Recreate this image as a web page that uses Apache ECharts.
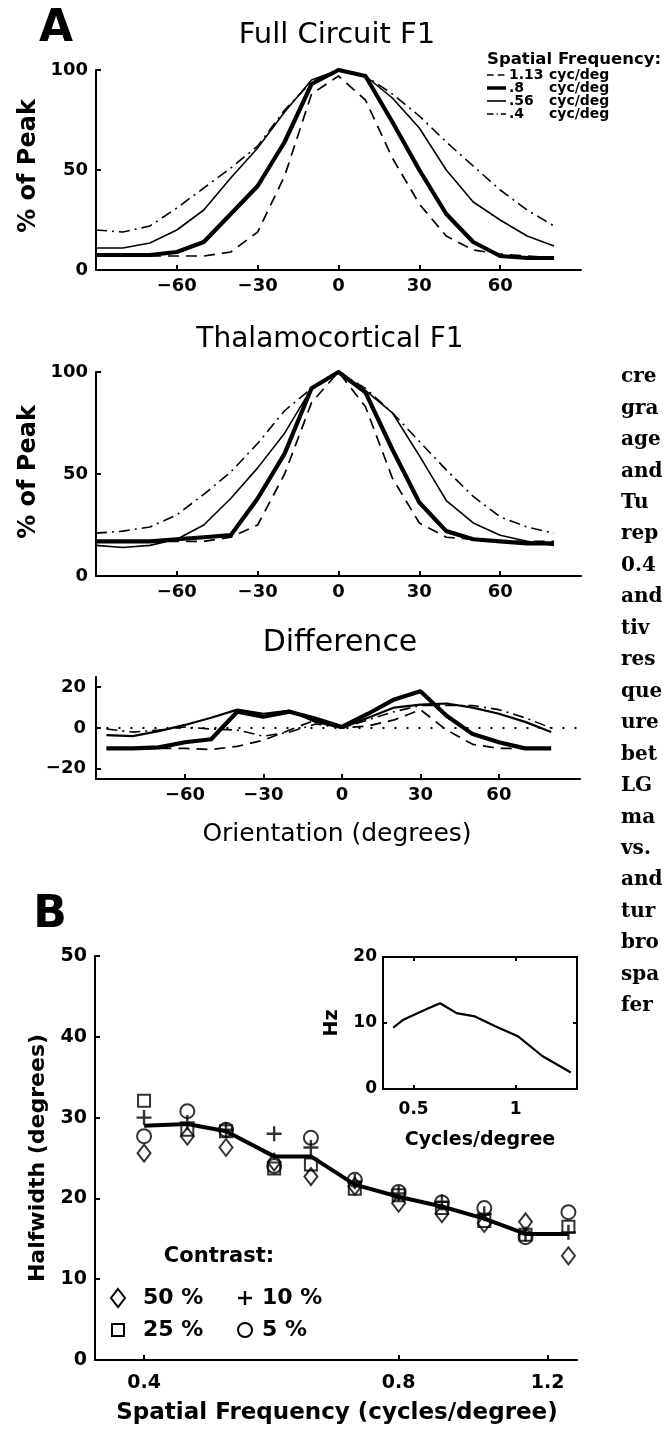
<!DOCTYPE html>
<html><head><meta charset="utf-8">
<script src="https://cdn.jsdelivr.net/npm/echarts@6/dist/echarts.min.js"></script>
<style>html,body{margin:0;padding:0;background:#fff}#c{width:666px;height:1430px}</style>
</head><body><div id="c"></div>
<script>
// ---------- Panel A data (orientation in degrees) ----------
const orientations = [-90,-80,-70,-60,-50,-40,-30,-20,-10,0,10,20,30,40,50,60,70,80];
const orientTicks = [-60,-30,0,30,60];
// Full Circuit F1 (% of peak)
const full_113 = [7,7,7,7,7,9,19,47,88,97,85,56,33,17,10,8,7,6];
const full_080 = [7.5,7.5,7.5,9,14,28,42,64,93,100,97,74,50,28,14,7,6,6];
const full_056 = [11,11,13.5,20,30,46,61,79,95,100,97,86,71,50,34,25,17,12];
const full_040 = [20,19,22,31,41,51,62,80,94,100,97,88,77,64,52,40,30,22];
// Thalamocortical F1 (% of peak)
const thal_113 = [17,17,17,17,17,19,25,50,85,100,83,48,26,19,18,17,17,17];
const thal_080 = [17,17,17,18,19,20,38,60,92,100,90,62,36,22,18,17,16,16];
const thal_056 = [15,14,15,18,25,38,53,70,92,100,91,80,59,37,26,20,17,15];
const thal_040 = [21,22,24,30,40,51,65,81,92,100,92,80,66,52,39,29,24,21];
// Difference
const diff_113 = [-10,-10,-10,-10,-10.5,-9,-6,-1,4,0,1,4,9,-1,-8,-10,-10,-10];
const diff_080 = [-10,-10,-9.5,-7,-5.5,8,5.5,8,4.5,0.5,7,14,18,6,-3,-7,-10,-10];
const diff_056 = [-3.5,-4,-1.5,1.5,5,9,7,8.5,3,0,5,10,11.5,12,10,7,3,-2];
const diff_040 = [-0.5,-2,-1,0.5,-0.5,-1,-4,-2,2,0,4,8,11,11,11,9,5,0];
const zeroLineX = [-90, 90];
const zeroLineY = [0, 0];
const diffTicks = [-20, 0, 20];

// ---------- Panel B data ----------
const spatialFreq = [0.4,0.45,0.5,0.57,0.63,0.71,0.8,0.9,1.01,1.13,1.27];
const halfwidthMean = [29,29.2,28.3,25.2,25.2,21.7,20.2,19,17.5,15.6,15.6];
const hw50 = [25.6,27.7,26.3,24.5,22.7,21.5,19.4,18.1,16.9,17.1,12.9];
const hw25 = [32.1,28.5,28.3,23.7,24.2,21.2,20.4,18.8,17.2,15.5,16.5];
const hw10 = [30,29.4,28.5,28,26.3,22.1,20.6,19.6,18.1,15.6,15.8];
const hw05 = [27.7,30.8,28.5,24,27.5,22.3,20.8,19.5,18.8,15.2,18.3];
const insetHz = [9.3,10.5,11.2,12.2,13,11.5,11,9.5,8,5,2.5];
const bXTicks = [0.4, 0.8, 1.2];
const insetXTicks = [0.5, 1];

// ---------- legend / text labels ----------
const sfLegendNums = ['1.13', '.8', '.56', '.4'];
const contrastLabels = ['50 %', '25 %', '10 %', '5 %'];
const pageWords = ['cre','gra','age','and','Tu','rep','0.4','and','tiv','res','que','ure','bet','LG','ma','vs.','and','tur','bro','spa','fer'];

const FONT = '"DejaVu Sans", sans-serif';
const pairs = (xs, ys) => xs.map((x, i) => [x, ys[i]]);
const minus = v => String(v).replace('-', '\u2212');

const STY = {
  dashed: {width: 1.7, type: [11, 7]},
  thick: {width: 4.2, type: 'solid'},
  thin: {width: 1.6, type: 'solid'},
  dashdot: {width: 1.6, type: [11, 5, 2, 5]},
  dotted: {width: 2, type: [2, 10]}
};

function lineSeries(xi, xs, ys, sty, z) {
  return {type: 'line', xAxisIndex: xi, yAxisIndex: xi, data: pairs(xs, ys),
    symbol: 'none', silent: true, z: z || 2,
    lineStyle: {color: '#000', width: sty.width, type: sty.type, cap: 'butt', join: 'round'}};
}

const axisLineS = {show: true, onZero: false, lineStyle: {color: '#000', width: 2}};
const labelS = {color: '#000', fontFamily: FONT, fontWeight: 'bold', fontSize: 18};
const tickS = (len, cv) => {
  const t = {inside: true, length: len, lineStyle: {width: 2, color: '#000'}};
  if (cv) t.customValues = cv;
  return t;
};

function orientX(gi, min, max) {
  return {type: 'value', gridIndex: gi, min: min, max: max,
    axisLine: axisLineS, axisTick: tickS(5, orientTicks),
    axisLabel: Object.assign({margin: 7, customValues: orientTicks, formatter: minus}, labelS),
    splitLine: {show: false}};
}
function pctY(gi) {
  return {type: 'value', gridIndex: gi, min: 0, max: 100, interval: 50,
    axisLine: axisLineS, axisTick: tickS(5),
    axisLabel: Object.assign({margin: 8}, labelS), splitLine: {show: false}};
}

// ---------- graphic elements (titles, letters, legends, page text) ----------
const G = [];
function txt(x, y, s, size, weight, opt) {
  opt = opt || {};
  G.push({type: 'text', x: x, y: y, rotation: opt.rot || 0, silent: true, z: 10,
    style: {text: s, fill: '#000', fontFamily: opt.family || FONT, fontSize: size,
      fontWeight: weight, align: opt.align || 'center', verticalAlign: 'middle'}});
}
function ln(x1, y1, x2, y2, w, dash) {
  G.push({type: 'line', silent: true, z: 10, shape: {x1, y1, x2, y2},
    style: {stroke: '#000', lineWidth: w, lineDash: dash || null}});
}

txt(56, 30, 'A', 44, 'bold');
txt(50, 916, 'B', 44, 'bold');
txt(337, 35, 'Full Circuit F1', 29, 'normal');
txt(330, 340, 'Thalamocortical F1', 28, 'normal');
txt(340, 643, 'Difference', 30, 'normal');
txt(337, 834, 'Orientation (degrees)', 25, 'normal');
txt(29, 166, '% of Peak', 24, 'bold', {rot: Math.PI / 2});
txt(29, 472, '% of Peak', 24, 'bold', {rot: Math.PI / 2});
txt(38, 1158, 'Halfwidth (degrees)', 22, 'bold', {rot: Math.PI / 2});
txt(337, 1413, 'Spatial Frequency (cycles/degree)', 23, 'bold');
txt(332, 1023, 'Hz', 19, 'bold', {rot: Math.PI / 2});
txt(480, 1140, 'Cycles/degree', 19, 'bold');

// Spatial frequency legend
txt(487, 60, 'Spatial Frequency:', 16.5, 'bold', {align: 'left'});
const legRows = [75, 88, 101, 114];
const legSty = [STY.dashed, STY.thick, STY.thin, STY.dashdot];
legRows.forEach((y, i) => {
  const s = legSty[i];
  const dash = Array.isArray(s.type) ? s.type.map(v => v * 0.6) : null;
  ln(487, y, 506, y, s.width === 4.2 ? 3.5 : 1.6, dash);
  txt(509, y, sfLegendNums[i], 14, 'bold', {align: 'left'});
  txt(549, y, 'cyc/deg', 14, 'bold', {align: 'left'});
});

// Contrast legend
txt(219, 1257, 'Contrast:', 21, 'bold');
G.push({type: 'polygon', silent: true, z: 10, shape: {points: [[118, 1289], [125, 1298], [118, 1307], [111, 1298]]},
  style: {fill: 'none', stroke: '#000', lineWidth: 2}});
G.push({type: 'rect', silent: true, z: 10, shape: {x: 112, y: 1324, width: 12, height: 12},
  style: {fill: 'none', stroke: '#000', lineWidth: 2}});
ln(238, 1298, 252, 1298, 2.4); ln(245, 1291, 245, 1305, 2.4);
G.push({type: 'circle', silent: true, z: 10, shape: {cx: 245, cy: 1330, r: 7},
  style: {fill: 'none', stroke: '#000', lineWidth: 2}});
txt(143, 1298, contrastLabels[0], 22, 'bold', {align: 'left'});
txt(143, 1330, contrastLabels[1], 22, 'bold', {align: 'left'});
txt(262, 1298, contrastLabels[2], 22, 'bold', {align: 'left'});
txt(262, 1330, contrastLabels[3], 22, 'bold', {align: 'left'});

// Body text fragments at the right edge of the page
pageWords.forEach((w, i) => txt(621, 377 + i * 31.45, w, 20, 'bold', {align: 'left', family: '"DejaVu Serif", serif'}));

// ---------- scatter helper ----------
function marks(ys, symbol, size, bw) {
  return {type: 'scatter', xAxisIndex: 3, yAxisIndex: 3, data: pairs(spatialFreq, ys),
    symbol: symbol, symbolSize: size, silent: true, z: 4,
    itemStyle: {color: 'rgba(0,0,0,0)', borderColor: '#000', borderWidth: bw || 2}};
}

const option = {
  animation: false,
  backgroundColor: '#fff',
  grid: [
    {left: 96, top: 70, width: 485, height: 200},
    {left: 96, top: 372, width: 485, height: 204},
    {left: 96, top: 677, width: 484, height: 102},
    {left: 95, top: 956, width: 482, height: 404},
    {left: 383, top: 957, width: 194, height: 132}
  ],
  xAxis: [
    orientX(0, -90, 90),
    orientX(1, -90, 90),
    orientX(2, -94, 91),
    {type: 'log', logBase: 10, gridIndex: 3, min: 0.35, max: 1.3,
      axisLine: axisLineS, axisTick: tickS(5, bXTicks),
      axisLabel: Object.assign({margin: 14, customValues: bXTicks, formatter: v => (+v).toFixed(1)}, labelS, {fontSize: 19}),
      splitLine: {show: false}, minorTick: {show: false}},
    {type: 'value', gridIndex: 4, min: 0.35, max: 1.3,
      axisLine: axisLineS, axisTick: tickS(4, insetXTicks),
      axisLabel: Object.assign({margin: 12, customValues: insetXTicks, formatter: v => String(+(+v).toFixed(1))}, labelS, {fontSize: 17}),
      splitLine: {show: false}},
    {type: 'value', gridIndex: 4, min: 0.35, max: 1.3, position: 'top',
      axisLine: axisLineS, axisTick: tickS(4, insetXTicks),
      axisLabel: {show: false}, splitLine: {show: false}}
  ],
  yAxis: [
    pctY(0),
    pctY(1),
    {type: 'value', gridIndex: 2, min: -25, max: 25,
      axisLine: axisLineS, axisTick: tickS(5, diffTicks),
      axisLabel: Object.assign({margin: 10, customValues: diffTicks, formatter: minus}, labelS),
      splitLine: {show: false}},
    {type: 'value', gridIndex: 3, min: 0, max: 50, interval: 10,
      axisLine: axisLineS, axisTick: tickS(5),
      axisLabel: Object.assign({margin: 8}, labelS, {fontSize: 19}), splitLine: {show: false}},
    {type: 'value', gridIndex: 4, min: 0, max: 20, interval: 10,
      axisLine: axisLineS, axisTick: tickS(4),
      axisLabel: Object.assign({margin: 6}, labelS, {fontSize: 17}), splitLine: {show: false}},
    {type: 'value', gridIndex: 4, min: 0, max: 20, interval: 10, position: 'right',
      axisLine: axisLineS, axisTick: tickS(4),
      axisLabel: {show: false}, splitLine: {show: false}}
  ],
  series: [
    lineSeries(0, orientations, full_040, STY.dashdot),
    lineSeries(0, orientations, full_056, STY.thin),
    lineSeries(0, orientations, full_113, STY.dashed),
    lineSeries(0, orientations, full_080, STY.thick, 3),
    lineSeries(1, orientations, thal_040, STY.dashdot),
    lineSeries(1, orientations, thal_056, STY.thin),
    lineSeries(1, orientations, thal_113, STY.dashed),
    lineSeries(1, orientations, thal_080, STY.thick, 3),
    lineSeries(2, zeroLineX, zeroLineY, STY.dotted, 1),
    lineSeries(2, orientations, diff_040, STY.dashdot),
    lineSeries(2, orientations, diff_056, Object.assign({}, STY.thin, {width: 2.2})),
    lineSeries(2, orientations, diff_113, STY.dashed),
    lineSeries(2, orientations, diff_080, STY.thick, 3),
    {type: 'line', xAxisIndex: 3, yAxisIndex: 3, data: pairs(spatialFreq, halfwidthMean), symbol: 'none',
      silent: true, z: 3, lineStyle: {color: '#000', width: 4}},
    marks(hw50, 'diamond', [13, 17]),
    marks(hw25, 'rect', 12),
    marks(hw10, 'path://M0,6H12M6,0V12', 15, 2.4),
    marks(hw05, 'circle', 14),
    {type: 'line', xAxisIndex: 4, yAxisIndex: 4, data: pairs(spatialFreq, insetHz), symbol: 'none',
      silent: true, z: 3, lineStyle: {color: '#000', width: 2.2}}
  ],
  graphic: G
};

const chart = echarts.init(document.getElementById('c'), null, {renderer: 'canvas'});
chart.setOption(option);
</script></body></html>
